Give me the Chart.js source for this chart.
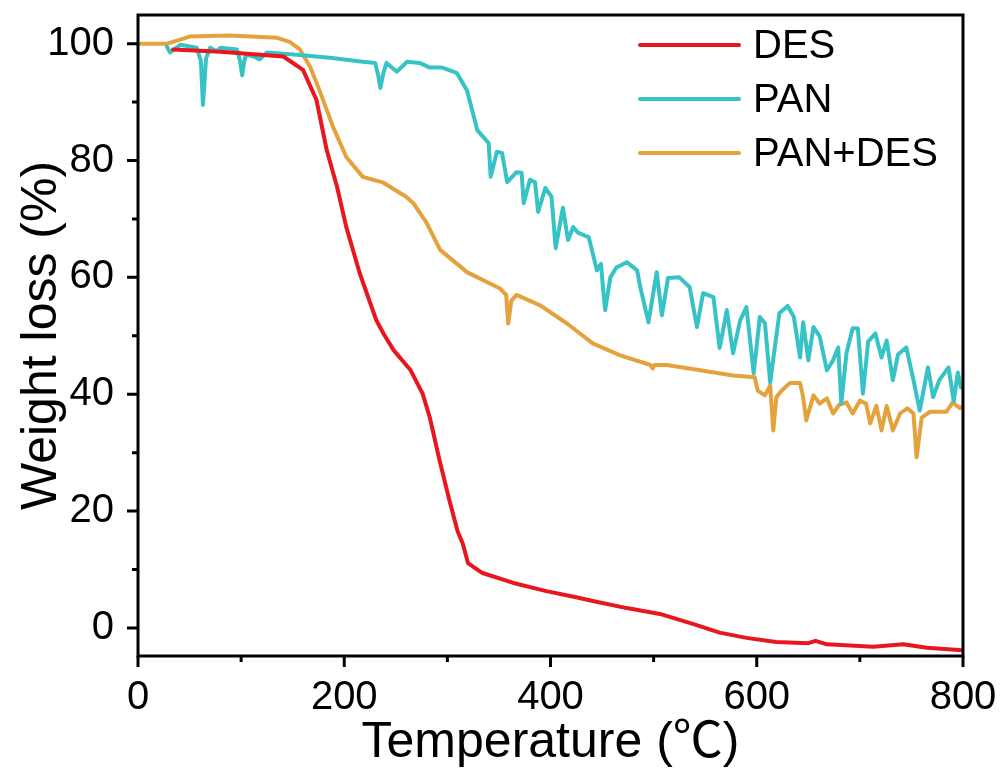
<!DOCTYPE html>
<html>
<head>
<meta charset="utf-8">
<script src="https://cdn.jsdelivr.net/npm/chart.js@4.4.1/dist/chart.umd.min.js"></script>
<style>
  html, body { margin: 0; padding: 0; background: #fff; }
  #wrap { width: 1005px; height: 773px; }
</style>
</head>
<body>
<div id="wrap"><canvas id="tgaChart" width="1005" height="773"></canvas></div>
<script>
// axis ticks
const xTicks = [0, 200, 400, 600, 800];
const xMinor = [100, 300, 500, 700];
const yTicks = [0, 20, 40, 60, 80, 100];
const yMinor = [10, 30, 50, 70, 90];

// DES
const desT = [34, 80, 141, 160, 173, 183, 193, 202, 215, 231, 238, 248, 264, 276, 283, 292, 302, 310, 315, 320, 334, 364, 396, 426, 441, 474, 506, 538, 564, 590, 619, 650, 657, 668, 713, 742, 765, 799];
const desW = [99, 98.6, 97.8, 95.5, 90.4, 81.8, 75.5, 68.6, 60.7, 52.7, 50.4, 47.5, 44.2, 40.1, 36, 29, 21.8, 16.5, 14.4, 11.1, 9.4, 7.7, 6.3, 5.2, 4.6, 3.4, 2.4, 0.7, -0.8, -1.7, -2.4, -2.6, -2.2, -2.8, -3.2, -2.8, -3.4, -3.8];

// PAN
const panT = [28, 31, 41, 57, 61, 63, 66, 70, 76, 80, 96, 99, 101, 103, 105, 112, 118, 125, 154, 186, 218, 230, 233, 235, 238, 241, 251, 261, 273, 283, 295, 309, 319, 329, 340, 342, 348, 353, 358, 367, 372, 374, 380, 385, 388, 395, 401, 405, 412, 417, 422, 427, 437, 445, 449, 451, 453, 458, 464, 474, 484, 487, 495, 503, 508, 514, 525, 535, 542, 548, 558, 564, 571, 577, 584, 590, 597, 603, 608, 613, 622, 630, 636, 642, 645, 650, 655, 661, 668, 674, 679, 682, 687, 693, 698, 703, 708, 715, 721, 726, 732, 737, 745, 752, 758, 766, 771, 777, 786, 791, 795, 798];
const panW = [99.5, 98.5, 99.8, 99.3, 97, 89.5, 97.5, 99.3, 98.7, 99.3, 99, 97, 94.6, 97, 98.1, 97.8, 97.3, 98.5, 98.1, 97.6, 96.9, 96.7, 94.5, 92.4, 95, 96.7, 95.2, 96.9, 96.7, 95.9, 95.9, 95, 92, 85.2, 83, 77.2, 81.5, 81.3, 76.3, 78, 77.9, 72.7, 76.7, 76.3, 71.2, 75.3, 73.8, 65, 71.9, 66.4, 68.6, 67.6, 66.9, 61.2, 62.3, 58, 54.4, 60, 61.7, 62.6, 61.2, 58.4, 52.3, 60.9, 53.5, 59.9, 60, 58.3, 51.5, 57.3, 56.6, 47.9, 54.4, 47, 52.7, 54.9, 43.6, 53.2, 52.1, 42, 53.9, 55.1, 53.2, 46.3, 52.3, 45.8, 51.5, 49.9, 44.1, 45.8, 48, 38.4, 47, 51.3, 51.3, 40.1, 49, 50.4, 46.3, 49.2, 42.4, 46.8, 48, 42.4, 37.2, 44.6, 39.5, 42.4, 44.6, 38.8, 43.7, 41.2];

// PAN+DES
const mixT = [2, 28, 34, 50, 89, 135, 147, 157, 167, 176, 189, 202, 218, 238, 260, 267, 280, 293, 319, 351, 357, 359, 362, 367, 390, 416, 441, 467, 497, 499, 501, 513, 545, 577, 598, 601, 608, 613, 616, 619, 624, 632, 642, 645, 648, 655, 661, 668, 674, 680, 687, 693, 700, 706, 710, 716, 721, 726, 732, 739, 746, 752, 755, 760, 768, 784, 790, 797, 800];
const mixW = [100, 100, 100.3, 101.2, 101.4, 101, 100.3, 99, 96, 92, 85.8, 80.6, 77.2, 76.2, 73.8, 72.7, 69.3, 64.7, 60.9, 58.1, 57, 52.1, 56, 57, 55.2, 52.1, 48.7, 46.7, 45, 44.4, 45, 45, 44.1, 43.2, 42.9, 40.6, 39.8, 41.5, 33.8, 39.5, 40.6, 41.9, 41.9, 39.5, 35.5, 39.8, 38.4, 39.3, 36.7, 38.2, 38.6, 36.7, 38.9, 38.4, 35, 38, 33.8, 38, 33.8, 36.7, 37.6, 36.7, 29.2, 36, 37, 37, 38.6, 37.6, 38];

const seriesNames = ["DES", "PAN", "PAN+DES"];
const seriesColors = ["#E8161E", "#37C3C6", "#E4A23D"];

const toPoints = (xs, ys) => xs.map((x, i) => ({ x: x, y: ys[i] }));

const fontFam = "'Liberation Sans', Arial, 'Noto Sans CJK SC', sans-serif";

const makeDataset = (label, xs, ys, color) => ({
  label: label,
  data: toPoints(xs, ys),
  borderColor: color,
  backgroundColor: color,
  borderWidth: 4,
  pointRadius: 0,
  tension: 0,
  borderJoinStyle: "round",
  borderCapStyle: "round",
});

// frame, tick marks and legend
const framePlugin = {
  id: "frameTicks",
  afterDraw: function (chart) {
    const ctx = chart.ctx;
    const area = chart.chartArea;
    const xs = chart.scales.x;
    const ys = chart.scales.y;
    ctx.save();
    ctx.strokeStyle = "#000";
    ctx.lineWidth = 3;
    ctx.strokeRect(area.left, area.top, area.right - area.left, area.bottom - area.top);

    ctx.lineWidth = 3;
    ctx.beginPath();
    xTicks.forEach((v) => {
      const px = xs.getPixelForValue(v);
      ctx.moveTo(px, area.bottom);
      ctx.lineTo(px, area.bottom + 11);
    });
    xMinor.forEach((v) => {
      const px = xs.getPixelForValue(v);
      ctx.moveTo(px, area.bottom);
      ctx.lineTo(px, area.bottom + 6);
    });
    yTicks.forEach((v) => {
      const py = ys.getPixelForValue(v);
      ctx.moveTo(area.left, py);
      ctx.lineTo(area.left - 11, py);
    });
    yMinor.forEach((v) => {
      const py = ys.getPixelForValue(v);
      ctx.moveTo(area.left, py);
      ctx.lineTo(area.left - 6, py);
    });
    ctx.stroke();

    // legend
    const lx = area.right - 323;
    const ly = area.top + 30;
    const gap = 54;
    ctx.font = "40px " + fontFam;
    ctx.textBaseline = "middle";
    ctx.textAlign = "left";
    chart.data.datasets.forEach((ds, i) => {
      const y = ly + i * gap;
      ctx.strokeStyle = ds.borderColor;
      ctx.lineWidth = 4;
      ctx.lineCap = "round";
      ctx.beginPath();
      ctx.moveTo(lx, y);
      ctx.lineTo(lx + 99, y);
      ctx.stroke();
      ctx.fillStyle = "#000";
      ctx.fillText(ds.label, lx + 113, y + 2);
    });
    ctx.restore();
  },
};

const ctx = document.getElementById("tgaChart").getContext("2d");
new Chart(ctx, {
  type: "line",
  data: {
    datasets: [
      makeDataset(seriesNames[0], desT, desW, seriesColors[0]),
      makeDataset(seriesNames[1], panT, panW, seriesColors[1]),
      makeDataset(seriesNames[2], mixT, mixW, seriesColors[2]),
    ],
  },
  options: {
    responsive: false,
    animation: false,
    devicePixelRatio: 1,
    layout: {
      autoPadding: false,
      padding: { top: 15, right: 42, left: 0, bottom: 0 },
    },
    plugins: {
      legend: { display: false },
      tooltip: { enabled: false },
    },
    scales: {
      x: {
        type: "linear",
        min: 0,
        max: 800,
        grid: { display: false, drawTicks: false },
        border: { display: false },
        afterBuildTicks: function (scale) {
          scale.ticks = xTicks.map((v) => ({ value: v }));
        },
        afterFit: function (scale) {
          scale.height = 117;
          scale.paddingLeft = 0;
          scale.paddingRight = 0;
        },
        ticks: {
          color: "#000",
          padding: 18,
          maxRotation: 0,
          autoSkip: false,
          font: { family: fontFam, size: 40 },
        },
        title: {
          display: true,
          text: "Temperature (℃)",
          color: "#000",
          padding: { top: 0, bottom: 0 },
          font: { family: fontFam, size: 50 },
        },
      },
      y: {
        type: "linear",
        min: -4.8,
        max: 104.9,
        grid: { display: false, drawTicks: false },
        border: { display: false },
        afterBuildTicks: function (scale) {
          scale.ticks = yTicks.map((v) => ({ value: v }));
        },
        afterFit: function (scale) {
          scale.width = 138;
          scale.paddingTop = 0;
          scale.paddingBottom = 0;
        },
        ticks: {
          color: "#000",
          padding: 24,
          autoSkip: false,
          font: { family: fontFam, size: 40 },
        },
        title: {
          display: true,
          text: "Weight loss (%)",
          color: "#000",
          padding: { top: 12, bottom: 0 },
          font: { family: fontFam, size: 50 },
        },
      },
    },
  },
  plugins: [framePlugin],
});
</script>
</body>
</html>
